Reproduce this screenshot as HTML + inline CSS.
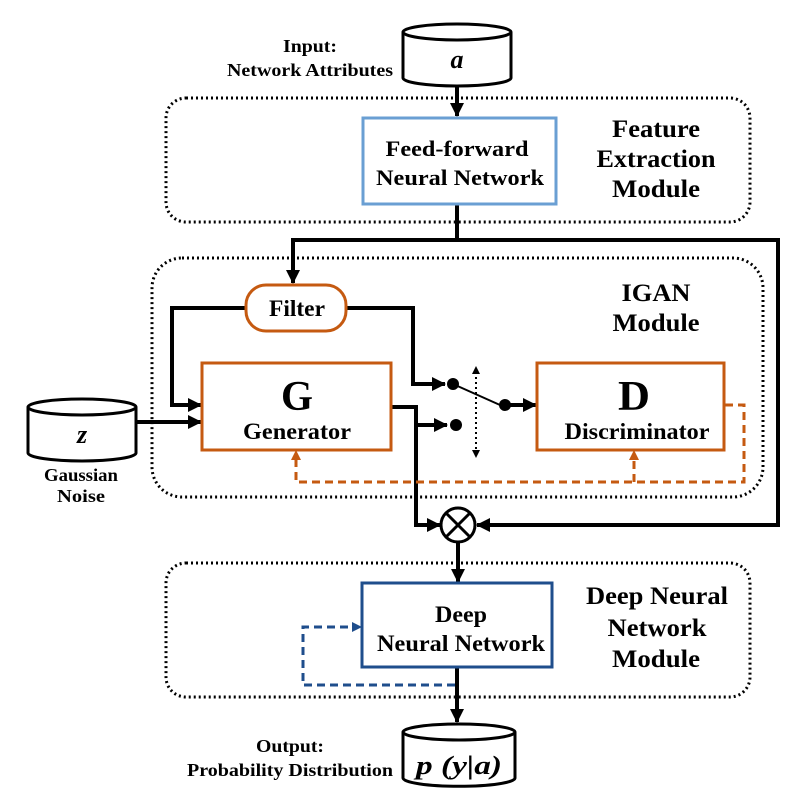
<!DOCTYPE html>
<html><head><meta charset="utf-8"><style>
html,body{margin:0;padding:0;background:#fff}
svg{display:block}
text{font-family:"Liberation Serif","Times New Roman",serif;font-weight:bold;fill:#000}
</style></head><body>
<svg width="808" height="799" viewBox="0 0 808 799" xmlns="http://www.w3.org/2000/svg">
<defs>
<marker id="akb" markerWidth="14" markerHeight="14" refX="13" refY="7" orient="auto" markerUnits="userSpaceOnUse"><path d="M0,0 L14,7 L0,14 z" fill="#000"/></marker>
</defs>

<g fill="none" stroke="#000" stroke-width="3" stroke-dasharray="2,3">
<rect x="166" y="98" width="584" height="124" rx="20"/>
<rect x="152" y="258" width="611" height="239" rx="30"/>
<rect x="166" y="563" width="584" height="134" rx="20"/>
</g>

<g fill="#fff" stroke="#000" stroke-width="3">
<path d="M403,32 L403,78 A54,8 0 0 0 511,78 L511,32"/>
<ellipse cx="457" cy="32" rx="54" ry="8"/>
<path d="M28,407 L28,453 A54,8 0 0 0 136,453 L136,407"/>
<ellipse cx="82" cy="407" rx="54" ry="8"/>
<path d="M403,732 L403,778 A54,8 0 0 0 515,778 L515,732"/>
<ellipse cx="459" cy="732" rx="56" ry="8"/>
</g>
<text x="457" y="68" font-size="26" font-style="italic" text-anchor="middle">a</text>
<text x="82" y="443" font-size="26" font-style="italic" text-anchor="middle">z</text>
<text x="459" y="774" font-size="26" font-style="italic" text-anchor="middle" textLength="86" lengthAdjust="spacingAndGlyphs">p (y|a)</text>

<text x="310" y="52" font-size="18" text-anchor="middle" textLength="54" lengthAdjust="spacingAndGlyphs">Input:</text>
<text x="310" y="76" font-size="18" text-anchor="middle" textLength="166" lengthAdjust="spacingAndGlyphs">Network Attributes</text>
<text x="290" y="752" font-size="18" text-anchor="middle" textLength="68" lengthAdjust="spacingAndGlyphs">Output:</text>
<text x="290" y="776" font-size="18" text-anchor="middle" textLength="206" lengthAdjust="spacingAndGlyphs">Probability Distribution</text>
<text x="81" y="481" font-size="18" text-anchor="middle" textLength="74" lengthAdjust="spacingAndGlyphs">Gaussian</text>
<text x="81" y="502" font-size="18" text-anchor="middle" textLength="48" lengthAdjust="spacingAndGlyphs">Noise</text>

<text x="656" y="137" font-size="25" text-anchor="middle" textLength="88" lengthAdjust="spacingAndGlyphs">Feature</text>
<text x="656" y="167" font-size="25" text-anchor="middle" textLength="119" lengthAdjust="spacingAndGlyphs">Extraction</text>
<text x="656" y="197" font-size="25" text-anchor="middle" textLength="88" lengthAdjust="spacingAndGlyphs">Module</text>
<text x="656" y="301" font-size="25" text-anchor="middle" textLength="69" lengthAdjust="spacingAndGlyphs">IGAN</text>
<text x="656" y="331" font-size="25" text-anchor="middle" textLength="87" lengthAdjust="spacingAndGlyphs">Module</text>
<text x="657" y="604" font-size="25" text-anchor="middle" textLength="142" lengthAdjust="spacingAndGlyphs">Deep Neural</text>
<text x="657" y="636" font-size="25" text-anchor="middle" textLength="99" lengthAdjust="spacingAndGlyphs">Network</text>
<text x="656" y="667" font-size="25" text-anchor="middle" textLength="88" lengthAdjust="spacingAndGlyphs">Module</text>

<g fill="none" stroke="#000" stroke-width="4">
<line x1="457" y1="86" x2="457" y2="116" marker-end="url(#akb)"/>
<polyline points="457,205 457,240 293,240 293,283" marker-end="url(#akb)"/>
<polyline points="457,240 778,240 778,525 477,525" marker-end="url(#akb)"/>
<polyline points="246,308 172,308 172,405 201,405" marker-end="url(#akb)"/>
<polyline points="346,308 413,308 413,384 445,384" marker-end="url(#akb)"/>
<line x1="137" y1="422" x2="201" y2="422" marker-end="url(#akb)"/>
<polyline points="391,407 416,407 416,525 440,525" marker-end="url(#akb)"/>
<line x1="416" y1="425" x2="447" y2="425" marker-end="url(#akb)"/>
<line x1="505" y1="405" x2="536" y2="405" marker-end="url(#akb)"/>
<line x1="458" y1="542" x2="458" y2="582" marker-end="url(#akb)"/>
<line x1="457" y1="667" x2="457" y2="722" marker-end="url(#akb)"/>
</g>
<line x1="453" y1="384" x2="500" y2="405" stroke="#000" stroke-width="2"/>
<circle cx="453" cy="384" r="6" fill="#000"/>
<circle cx="456" cy="425" r="6" fill="#000"/>
<circle cx="505" cy="405" r="6" fill="#000"/>
<line x1="476" y1="372" x2="476" y2="452" stroke="#000" stroke-width="2" stroke-dasharray="2,3"/>
<path d="M476,366 l-4,8 h8z M476,458 l-4,-8 h8z" fill="#000"/>

<circle cx="458" cy="525" r="17" fill="#fff" stroke="#000" stroke-width="3"/>
<path d="M446,513 L470,537 M470,513 L446,537" stroke="#000" stroke-width="3"/>

<rect x="363" y="118" width="193" height="86" fill="#fff" stroke="#6a9fd3" stroke-width="3"/>
<text x="457" y="156" font-size="22" text-anchor="middle" textLength="143" lengthAdjust="spacingAndGlyphs">Feed-forward</text>
<text x="460" y="185" font-size="22" text-anchor="middle" textLength="168" lengthAdjust="spacingAndGlyphs">Neural Network</text>

<rect x="246" y="285" width="100" height="46" rx="20" fill="#fff" stroke="#c55a11" stroke-width="3"/>
<text x="297" y="316" font-size="23" text-anchor="middle" textLength="56" lengthAdjust="spacingAndGlyphs">Filter</text>

<rect x="202" y="363" width="189" height="87" fill="#fff" stroke="#c55a11" stroke-width="3"/>
<text x="297" y="410" font-size="42" text-anchor="middle" textLength="32" lengthAdjust="spacingAndGlyphs">G</text>
<text x="297" y="439" font-size="23" text-anchor="middle" textLength="108" lengthAdjust="spacingAndGlyphs">Generator</text>

<rect x="537" y="363" width="187" height="87" fill="#fff" stroke="#c55a11" stroke-width="3"/>
<text x="634" y="410" font-size="42" text-anchor="middle" textLength="32" lengthAdjust="spacingAndGlyphs">D</text>
<text x="637" y="439" font-size="23" text-anchor="middle" textLength="145" lengthAdjust="spacingAndGlyphs">Discriminator</text>

<g fill="none" stroke="#c55a11" stroke-width="3" stroke-dasharray="8,5">
<polyline points="725,405 744,405 744,482 296,482 296,458"/>
<line x1="634" y1="482" x2="634" y2="458"/>
</g>
<path d="M296,450 l-5,10 h10z M634,450 l-5,10 h10z" fill="#c55a11"/>

<rect x="362" y="583" width="190" height="84" fill="#fff" stroke="#1f4e8c" stroke-width="3"/>
<text x="461" y="622" font-size="23" text-anchor="middle" textLength="52" lengthAdjust="spacingAndGlyphs">Deep</text>
<text x="461" y="651" font-size="23" text-anchor="middle" textLength="168" lengthAdjust="spacingAndGlyphs">Neural Network</text>

<polyline points="455,685 303,685 303,627 352,627" fill="none" stroke="#1f4e8c" stroke-width="3" stroke-dasharray="8,5"/>
<path d="M362,627 l-10,-5 v10z" fill="#1f4e8c"/>
</svg>
</body></html>
